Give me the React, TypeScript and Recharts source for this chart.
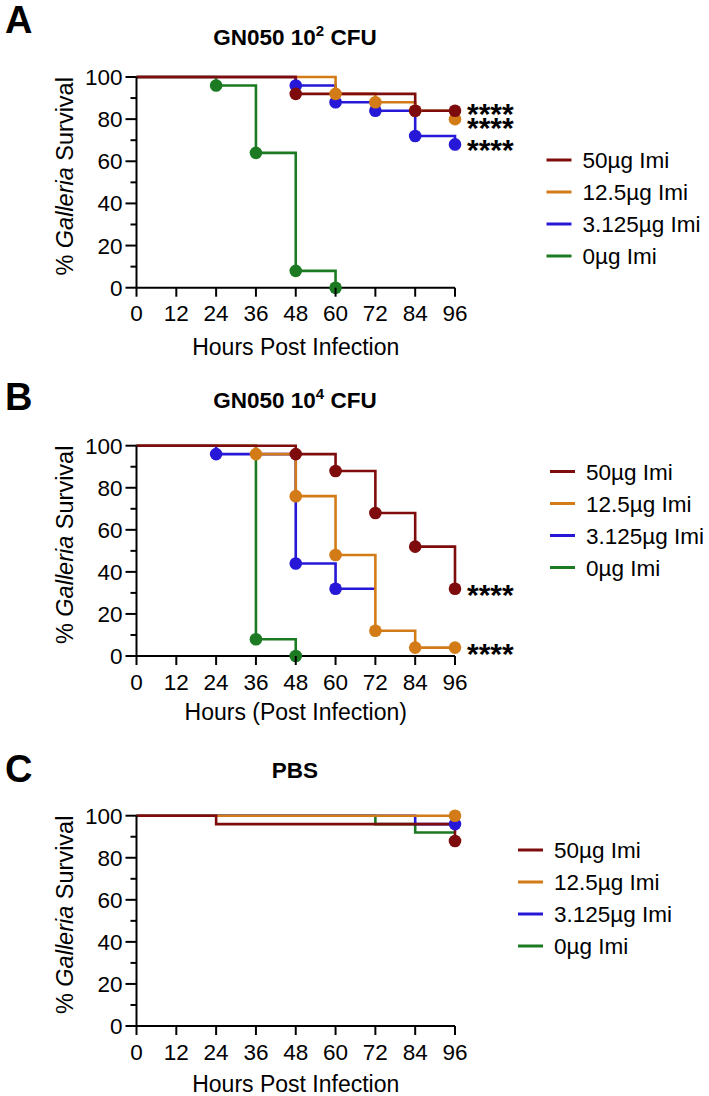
import { LineChart, Line, XAxis, YAxis } from 'recharts';

// shared axes / legend
const seriesNames = ['50µg Imi', '12.5µg Imi', '3.125µg Imi', '0µg Imi'];
const hourTicks = [0, 12, 24, 36, 48, 60, 72, 84, 96];
const survivalTicks = [0, 10, 20, 30, 40, 50, 60, 70, 80, 90, 100];

// A: GN050 10^2 CFU
const hoursA = [[0, 48, 84, 96], [0, 60, 72, 84, 96], [0, 48, 60, 72, 84, 96], [0, 24, 36, 48, 60]];
const survivalA = [[100, 92, 84, 84], [100, 92, 88, 84, 80], [100, 96, 88, 84, 72, 68], [100, 96, 64, 8, 0]];
const markedA = [[48, 84, 96], [60, 72, 84, 96], [48, 60, 72, 84, 96], [24, 36, 48, 60]];
const starsA = ['****', '****', '****', ''];

// B: GN050 10^4 CFU
const hoursB = [[0, 48, 60, 72, 84, 96], [0, 36, 48, 60, 72, 84, 96], [0, 24, 48, 60, 72], [0, 36, 48]];
const survivalB = [[100, 96, 88, 68, 52, 32], [100, 96, 76, 48, 12, 4, 4], [100, 96, 44, 32, 32], [100, 8, 0]];
const markedB = [[48, 60, 72, 84, 96], [36, 48, 60, 72, 84, 96], [24, 48, 60], [36, 48]];
const starsB = ['****', '****', '', ''];

// C: PBS
const hoursC = [[0, 24, 96], [0, 96], [0, 84, 96], [0, 72, 84, 96]];
const survivalC = [[100, 96, 88], [100, 100], [100, 96, 96], [100, 96, 92, 92]];
const markedC = [[96], [96], [96], []];
const starsC = ['', '', '', ''];

const colors = ['#7e0c0c', '#d27b17', '#2618d6', '#1b7a22'];
const FONT = '"Liberation Sans", Arial, Helvetica, sans-serif';
const PLOT_LEFT = 136.5;
const PLOT_RIGHT = 455;
const X_AXIS_H = 40;

const panels = [
  { letter: 'A', title: ['GN050 10', '2', ' CFU'], xLabel: 'Hours Post Infection', hours: hoursA, survival: survivalA, marked: markedA, stars: starsA },
  { letter: 'B', title: ['GN050 10', '4', ' CFU'], xLabel: 'Hours (Post Infection)', hours: hoursB, survival: survivalB, marked: markedB, stars: starsB },
  { letter: 'C', title: ['PBS', '', ''], xLabel: 'Hours Post Infection', hours: hoursC, survival: survivalC, marked: markedC, stars: starsC },
];

const layout = [
  { top: 0, height: 370, plotTop: 77, plotBottom: 287.7, titleY: 45, letterY: 33, legendY: 160, legendX: 546.5, labelDy: 67, starDy: [-3, 3, 0, 0] },
  { top: 360, height: 370, plotTop: 445.7, plotBottom: 656, titleY: 408, letterY: 410, legendY: 471.5, legendX: 550, labelDy: 64, starDy: [0, 0, 0, 0] },
  { top: 720, height: 376, plotTop: 815.7, plotBottom: 1026, titleY: 778, letterY: 782, legendY: 850, legendX: 518, labelDy: 66, starDy: [0, 0, 0, 0] },
];

const XTick = (props: any) => {
  const { x, y, payload } = props;
  return (
    <g>
      <line x1={x} y1={y} x2={x} y2={y + 9} stroke="#000" strokeWidth={2} />
      <text x={x} y={y + 33.5} textAnchor="middle" fontSize={22.5} fontFamily={FONT} fill="#000">
        {payload.value}
      </text>
    </g>
  );
};

const YTick = (props: any) => {
  const { x, y, payload } = props;
  const major = payload.value % 20 === 0;
  return (
    <g>
      <line x1={x - (major ? 11 : 6)} y1={y} x2={x} y2={y} stroke="#000" strokeWidth={2} />
      {major && (
        <text x={x - 14} y={y + 8} textAnchor="end" fontSize={22.5} fontFamily={FONT} fill="#000">
          {payload.value}
        </text>
      )}
    </g>
  );
};

const Panel = ({ idx }: { idx: number }) => {
  const p = panels[idx];
  const lay = layout[idx];
  const margin = {
    top: lay.plotTop - lay.top,
    right: 709 - PLOT_RIGHT,
    left: 0,
    bottom: lay.height - (lay.plotBottom - lay.top) - X_AXIS_H,
  };
  // draw order: green, blue, orange, red on top
  const order = [3, 2, 1, 0];
  const dataOf = (i: number) => p.hours[i].map((h, j) => ({ h, s: p.survival[i][j] }));

  const dotFor = (i: number) => (props: any) => {
    const { cx, cy, index, payload } = props;
    const last = index === p.hours[i].length - 1;
    const show = p.marked[i].includes(payload.h);
    return (
      <g key={`dot-${i}-${index}`}>
        {show && <circle cx={cx} cy={cy} r={6.3} fill={colors[i]} />}
        {last && p.stars[i] && (
          <text x={cx + 12} y={cy + 16 + lay.starDy[i]} fontSize={30} fontWeight="bold" fontFamily={FONT} fill="#000">
            {p.stars[i]}
          </text>
        )}
      </g>
    );
  };

  return (
    <div style={{ position: 'absolute', left: 0, top: lay.top }}>
      <LineChart width={709} height={lay.height} margin={margin}>
        <XAxis
          type="number"
          dataKey="h"
          domain={[0, 96]}
          ticks={hourTicks}
          interval={0}
          tickSize={0}
          tickMargin={0}
          tick={XTick}
          height={X_AXIS_H}
          axisLine={{ stroke: '#000', strokeWidth: 2 }}
          label={(lp: any) => (
            <text
              x={lp.viewBox.x + lp.viewBox.width / 2}
              y={lp.viewBox.y + lay.labelDy}
              textAnchor="middle"
              fontSize={23}
              fontFamily={FONT}
              fill="#000"
            >
              {p.xLabel}
            </text>
          )}
        />
        <YAxis
          type="number"
          domain={[0, 100]}
          ticks={survivalTicks}
          interval={0}
          width={PLOT_LEFT}
          tickSize={0}
          tickMargin={0}
          tick={YTick}
          axisLine={{ stroke: '#000', strokeWidth: 2 }}
          label={(lp: any) => {
            const cy = lp.viewBox.y + lp.viewBox.height / 2 - 6;
            return (
              <text
                x={65}
                y={cy}
                transform={`rotate(-90, 65, ${cy})`}
                textAnchor="middle"
                dominantBaseline="central"
                fontSize={23.5}
                fontFamily={FONT}
                fill="#000"
              >
                <tspan>% </tspan>
                <tspan fontStyle="italic">Galleria</tspan>
                <tspan> Survival</tspan>
              </text>
            );
          }}
        />
        {order.map((i) => (
          <Line
            key={`line-${i}`}
            data={dataOf(i)}
            dataKey="s"
            name={seriesNames[i]}
            type="stepAfter"
            stroke={colors[i]}
            strokeWidth={2.6}
            dot={false}
            activeDot={false}
            isAnimationActive={false}
          />
        ))}
        {order.map((i) => (
          <Line
            key={`marks-${i}`}
            data={dataOf(i)}
            dataKey="s"
            type="stepAfter"
            stroke="none"
            strokeWidth={0}
            dot={dotFor(i)}
            activeDot={false}
            legendType="none"
            isAnimationActive={false}
          />
        ))}
      </LineChart>
    </div>
  );
};

const Decorations = () => (
  <svg
    width={709}
    height={1096}
    style={{ position: 'absolute', left: 0, top: 0, pointerEvents: 'none' }}
    fontFamily={FONT}
  >
    {panels.map((p, idx) => {
      const lay = layout[idx];
      return (
        <g key={p.letter}>
          <text x={5} y={lay.letterY} fontSize={38} fontWeight="bold" fill="#000">
            {p.letter}
          </text>
          <text x={295} y={lay.titleY} textAnchor="middle" fontSize={22.5} fontWeight="bold" fill="#000">
            <tspan>{p.title[0]}</tspan>
            {p.title[1] && (
              <tspan dy={-9} fontSize={15}>
                {p.title[1]}
              </tspan>
            )}
            {p.title[2] && <tspan dy={p.title[1] ? 9 : 0}>{p.title[2]}</tspan>}
          </text>
          {seriesNames.map((name, i) => {
            const cy = lay.legendY + i * 32;
            return (
              <g key={name}>
                <line x1={lay.legendX} y1={cy} x2={lay.legendX + 25} y2={cy} stroke={colors[i]} strokeWidth={3} />
                <text x={lay.legendX + 36} y={cy + 8} fontSize={22.5} fill="#000">
                  {name}
                </text>
              </g>
            );
          })}
        </g>
      );
    })}
  </svg>
);

export default function App() {
  return (
    <div style={{ position: 'absolute', left: 0, top: 0, width: 709, height: 1096, background: '#fff', fontFamily: FONT }}>
      {panels.map((p, idx) => (
        <Panel key={p.letter} idx={idx} />
      ))}
      <Decorations />
    </div>
  );
}
